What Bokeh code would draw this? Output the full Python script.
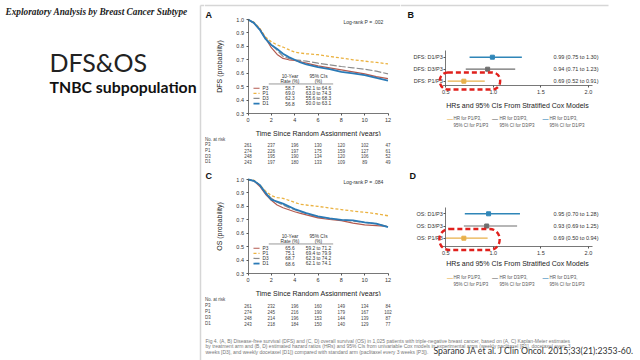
from bokeh.plotting import figure
from bokeh.models import Range1d, FactorRange, Label, FixedTicker, NumeralTickFormatter, LinearAxis
from bokeh.layouts import row, column
from bokeh.embed import file_html
from bokeh.resources import INLINE
from bokeh.core.properties import value

# ---------------- data ----------------
YEARS = [0, 0.5, 1, 1.5, 2, 2.5, 3, 3.5, 4, 4.5, 5, 6, 7, 8, 9, 10, 11, 12]

DFS_P3 = [1.0, 0.975, 0.93, 0.86, 0.79, 0.74, 0.71, 0.70, 0.695, 0.685, 0.675, 0.655, 0.64, 0.625, 0.61, 0.595, 0.575, 0.56]
DFS_P1 = [1.0, 0.98, 0.935, 0.87, 0.835, 0.81, 0.795, 0.775, 0.757, 0.75, 0.745, 0.738, 0.725, 0.713, 0.70, 0.69, 0.68, 0.67]
DFS_D3 = [1.0, 0.975, 0.925, 0.86, 0.815, 0.77, 0.725, 0.71, 0.70, 0.695, 0.69, 0.675, 0.662, 0.65, 0.64, 0.63, 0.615, 0.595]
DFS_D1 = [1.0, 0.975, 0.925, 0.855, 0.81, 0.78, 0.745, 0.72, 0.70, 0.68, 0.665, 0.645, 0.63, 0.61, 0.598, 0.585, 0.565, 0.545]

OS_P3 = [1.0, 0.99, 0.95, 0.89, 0.845, 0.81, 0.79, 0.775, 0.76, 0.748, 0.736, 0.714, 0.702, 0.694, 0.675, 0.662, 0.657, 0.65]
OS_P1 = [1.0, 0.995, 0.96, 0.915, 0.88, 0.865, 0.86, 0.845, 0.83, 0.815, 0.81, 0.80, 0.787, 0.776, 0.765, 0.756, 0.745, 0.73]
OS_D3 = [1.0, 0.99, 0.96, 0.905, 0.86, 0.83, 0.81, 0.79, 0.775, 0.76, 0.745, 0.72, 0.708, 0.70, 0.69, 0.68, 0.67, 0.65]
OS_D1 = [1.0, 0.99, 0.96, 0.90, 0.85, 0.835, 0.82, 0.80, 0.78, 0.765, 0.75, 0.726, 0.71, 0.70, 0.695, 0.68, 0.672, 0.645]

ARMS = ["P3", "P1", "D3", "D1"]
DFS_RATE = ["58.7", "69.0", "62.3", "56.8"]
DFS_CI = ["52.1 to 64.6", "63.0 to 74.3", "55.6 to 68.3", "50.0 to 63.1"]
OS_RATE = ["65.6", "75.1", "68.7", "68.6"]
OS_CI = ["59.2 to 71.2", "69.4 to 79.9", "62.3 to 74.2", "62.1 to 74.1"]
DFS_LOGRANK = "Log-rank P = .002"
OS_LOGRANK = "Log-rank P = .084"

RISK_YEARS = [0, 2, 4, 6, 8, 10, 12]
DFS_RISK_P3 = [261, 237, 196, 130, 120, 102, 47]
DFS_RISK_P1 = [274, 226, 197, 175, 159, 127, 61]
DFS_RISK_D3 = [248, 195, 190, 134, 120, 106, 52]
DFS_RISK_D1 = [243, 197, 180, 133, 109, 89, 49]
OS_RISK_P3 = [261, 232, 196, 160, 149, 134, 84]
OS_RISK_P1 = [274, 245, 216, 190, 179, 167, 102]
OS_RISK_D3 = [248, 214, 196, 153, 144, 139, 87]
OS_RISK_D1 = [243, 218, 184, 150, 140, 129, 77]

COMPARISONS = ["P1/P3", "D3/P3", "D1/P3"]
DFS_HR = [0.69, 0.94, 0.99]
DFS_LO = [0.52, 0.71, 0.75]
DFS_HI = [0.91, 1.23, 1.30]
OS_HR = [0.69, 0.93, 0.95]
OS_LO = [0.50, 0.69, 0.70]
OS_HI = [0.94, 1.25, 1.28]

KM_XTICKS = [0, 2, 4, 6, 8, 10, 12]
KM_YTICKS = [0.3, 0.4, 0.5, 0.6, 0.7, 0.8, 0.9, 1.0]
HR_TICKS = [0.5, 1.0, 1.5, 2.0]

CAPTION = [
    "Fig 4.  (A, B) Disease-free survival (DFS) and (C, D) overall survival (OS) in 1,025 patients with triple-negative breast cancer, based on (A, C) Kaplan-Meier estimates",
    "by treatment arm and (B, D) estimated hazard ratios (HRs) and 95% CIs from univariable Cox models in experimental arms (weekly paclitaxel [P1], docetaxel every 3",
    "weeks [D3], and weekly docetaxel [D1]) compared with standard arm (paclitaxel every 3 weeks [P3]).",
]
CITATION = "Sparano JA et al. J Clin Oncol. 2015;33(21):2353-60."

# ---------------- styles ----------------
ARM_COLOR = {"P3": "#b35a4f", "P1": "#ebb240", "D3": "#8c8c8c", "D1": "#2a7ab6"}
ARM_DASH = {"P3": "solid", "P1": "3 2", "D3": "7 2", "D1": "solid"}
ARM_WIDTH = {"P3": 1.2, "P1": 1.3, "D3": 1.2, "D1": 1.8}
CMP_COLOR = {"P1/P3": "#e8b04a", "D3/P3": "#6e6e6e", "D1/P3": "#2f86b8"}
SANS = "Liberation Sans"
TXT = "#333333"
FRAME_GREY = "#d6d6d6"


def page_fig(px0, py0, w, h, fx, fy, yr=None):
    """Figure whose frame is the whole canvas; fx/fy map page pixels to data."""
    p = figure(width=w, height=h, x_range=Range1d(fx(px0), fx(px0 + w)),
               y_range=yr if yr is not None else Range1d(fy(py0 + h), fy(py0)),
               x_axis_location=None, y_axis_location=None, min_border=0,
               output_backend="svg", toolbar_location=None)
    p.outline_line_color = None
    p.background_fill_color = "white"
    p.border_fill_color = "white"
    p.grid.visible = False
    return p


def style_axis(ax, size="5.5px"):
    ax.axis_line_color = "#555555"
    ax.axis_line_width = 0.8
    ax.major_tick_line_color = "#555555"
    ax.major_tick_in = 0
    ax.major_tick_out = 2
    ax.minor_tick_line_color = None
    ax.major_label_text_font = SANS
    ax.major_label_text_font_size = size
    ax.major_label_text_color = TXT
    ax.major_label_standoff = 2
    ax.axis_label_text_font = SANS
    ax.axis_label_text_font_size = "7px"
    ax.axis_label_text_font_style = "normal"
    ax.axis_label_text_color = "#222222"
    return ax


def ident(v):
    return v


# ---------------- left text column ----------------
left = page_fig(0, 0, 204, 360, ident, ident, yr=Range1d(360, 0))
left.x_range = Range1d(0, 204)
left.segment(x0=[200], y0=[5], x1=[200], y1=[360], line_color=FRAME_GREY, line_width=1.5)
left.segment(x0=[200], y0=[5], x1=[204], y1=[5], line_color=FRAME_GREY, line_width=1.5)
left.add_layout(Label(x=5, y=11, text="Exploratory Analysis by Breast Cancer Subtype",
                      text_font="Liberation Serif", text_font_style="bold italic",
                      text_font_size="9.3px", text_color="#222222", text_baseline="middle"))
left.add_layout(Label(x=49, y=61.5, text="DFS&OS", text_font="Lato", text_font_size="25px",
                      text_color="#222222", text_baseline="alphabetic"))
left.add_layout(Label(x=49, y=86, text="TNBC subpopulation", text_font="Lato", text_font_style="bold",
                      text_font_size="15.8px", text_color="#111111", text_baseline="alphabetic"))


# ---------------- Kaplan-Meier panels ----------------
def km_panel(letter, ylabel, curves, rates, cis, logrank, py0, h, frame_top, letter_py):
    fx = lambda px: (px - 247.5) / 140 * 12
    fy = lambda py: 1.0 - (py - frame_top) / 94 * 0.7
    p = page_fig(204, py0, 196, h, fx, fy)
    xax = style_axis(LinearAxis(fixed_location=0.3, bounds=(0, 12), ticker=FixedTicker(ticks=KM_XTICKS),
                                axis_label="Time Since Random Assignment (years)"))
    yax = style_axis(LinearAxis(fixed_location=0, bounds=(0.3, 1.0), ticker=FixedTicker(ticks=KM_YTICKS),
                                formatter=NumeralTickFormatter(format="0.0"), axis_label=ylabel))
    xax.axis_label_standoff = 5
    yax.axis_label_standoff = 11
    p.add_layout(xax, "below")
    p.add_layout(yax, "left")
    if py0 == 0:
        p.segment(x0=[fx(204)], y0=[fy(5)], x1=[fx(400)], y1=[fy(5)], line_color=FRAME_GREY, line_width=1.5)
    for i in [1, 2, 0, 3]:
        arm = ARMS[i]
        p.line(YEARS, curves[i], line_color=ARM_COLOR[arm], line_width=ARM_WIDTH[arm],
               line_dash=ARM_DASH[arm])
    # inset table
    rows_y = [0.488, 0.45, 0.412, 0.374]
    p.text(x=[3.6, 3.6, 6.04, 6.04], y=[0.577, 0.54, 0.577, 0.54],
           text=["10-Year", "Rate (%)", "95% CIs", "(%)"], text_align="center",
           text_baseline="middle", text_font=value(SANS), text_font_size="4.8px", text_color=TXT)
    p.segment(x0=[1.78], y0=[0.52], x1=[7.3], y1=[0.52], line_color="#555555", line_width=0.6)
    for i, arm in enumerate(ARMS):
        p.segment(x0=[0.47], y0=[rows_y[i]], x1=[0.99], y1=[rows_y[i]], line_color=ARM_COLOR[arm],
                  line_width=ARM_WIDTH[arm], line_dash=ARM_DASH[arm])
    p.text(x=[1.24] * 4, y=rows_y, text=ARMS, text_align="left", text_baseline="middle",
           text_font=value(SANS), text_font_size="4.8px", text_color=TXT)
    p.text(x=[3.6] * 4, y=rows_y, text=rates, text_align="center", text_baseline="middle",
           text_font=value(SANS), text_font_size="4.8px", text_color=TXT)
    p.text(x=[6.04] * 4, y=rows_y, text=cis, text_align="center", text_baseline="middle",
           text_font=value(SANS), text_font_size="4.8px", text_color=TXT)
    p.text(x=[11.6], y=[0.985], text=[logrank], text_align="right", text_baseline="middle",
           text_font=value(SANS), text_font_size="5px", text_color=TXT)
    p.add_layout(Label(x=fx(205), y=fy(letter_py), text=letter, text_font=SANS,
                       text_font_style="bold", text_font_size="9px", text_color="#111111",
                       text_baseline="middle"))
    return p


def risk_panel(py0, height, risk):
    fx = lambda px: (px - 247.5) / 140 * 12
    p = page_fig(204, py0, 196, height, fx, ident,
                 yr=FactorRange(factors=["D1", "D3", "P1", "P3", "hdr"]))
    xs, ys, ts = [], [], []
    for arm, vals in zip(ARMS, risk):
        for yr, v in zip(RISK_YEARS, vals):
            xs.append(yr)
            ys.append(arm)
            ts.append(str(v))
    p.text(x=xs, y=ys, text=ts, text_align="center", text_baseline="middle",
           text_font=value(SANS), text_font_size="4.5px", text_color="#444444")
    p.text(x=[fx(204.5)] * 5, y=["hdr"] + ARMS, text=["No. at risk"] + ARMS, text_align="left",
           text_baseline="middle", text_font=value(SANS), text_font_size="4.5px", text_color="#444444")
    return p


pA = km_panel("A", "DFS (probability)", [DFS_P3, DFS_P1, DFS_D3, DFS_D1], DFS_RATE, DFS_CI,
              DFS_LOGRANK, 0, 136, 19, 14)
rA = risk_panel(136, 28, [DFS_RISK_P3, DFS_RISK_P1, DFS_RISK_D3, DFS_RISK_D1])
pC = km_panel("C", "OS (probability)", [OS_P3, OS_P1, OS_D3, OS_D1], OS_RATE, OS_CI,
              OS_LOGRANK, 164, 132, 179, 175)
rC = risk_panel(296, 30, [OS_RISK_P3, OS_RISK_P1, OS_RISK_D3, OS_RISK_D1])

# ---------------- forest panels ----------------
def fx_hr(px):
    return 0.476 + (px - 443) / 95.1


def forest_panel(letter, prefix, hr, lo, hi, py0, height, row_py, spacing, axis_py, axis_top_py,
                 title_standoff, legend_py, ell, letter_pos):
    fy = lambda py: 1 + (row_py - py) / spacing
    p = page_fig(400, py0, 240, height, fx_hr, fy)
    rows = [1, 2, 3]
    xax = style_axis(LinearAxis(fixed_location=fy(axis_py), bounds=(0.47, 2.04),
                                ticker=FixedTicker(ticks=HR_TICKS),
                                formatter=NumeralTickFormatter(format="0.0"),
                                axis_label="HRs and 95% CIs From Stratified Cox Models"))
    xax.axis_label_standoff = title_standoff
    yax = style_axis(LinearAxis(fixed_location=0.5, bounds=(fy(axis_py), fy(axis_top_py)),
                                ticker=FixedTicker(ticks=rows)))
    yax.major_label_overrides = {r: f"{prefix}: {c}" for r, c in zip(rows, COMPARISONS)}
    yax.major_label_standoff = 1
    p.add_layout(xax, "below")
    p.add_layout(yax, "left")
    if py0 == 0:
        p.segment(x0=[fx_hr(400)], y0=[fy(5)], x1=[fx_hr(608)], y1=[fy(5)], line_color=FRAME_GREY, line_width=1.5)
    cols = [CMP_COLOR[c] for c in COMPARISONS]
    p.segment(x0=lo, y0=rows, x1=hi, y1=rows, line_color=cols, line_width=[1.2, 1.2, 1.6])
    p.scatter(x=hr, y=rows, marker="square", size=4, fill_color=cols, line_color=cols)
    p.text(x=[fx_hr(598)] * 3, y=rows,
           text=[f"{h:.2f} ({l:.2f} to {u:.2f})" for h, l, u in zip(hr, lo, hi)],
           text_align="right", text_baseline="middle", text_font=value(SANS),
           text_font_size="5.5px", text_color=TXT)
    # legend
    dash_px = [449.5, 494.5, 545]
    text_px = [453, 499, 549]
    for c, dx, tx in zip(COMPARISONS, dash_px, text_px):
        p.add_layout(Label(x=fx_hr(dx), y=fy(legend_py[0]), text="\u2014", text_font=SANS,
                           text_font_size="6px", text_color=CMP_COLOR[c], text_align="center",
                           text_baseline="middle", text_font_style="bold"))
        p.add_layout(Label(x=fx_hr(tx), y=fy(legend_py[0]), text=f"HR for {c},", text_font=SANS,
                           text_font_size="4.5px", text_color="#555555", text_baseline="middle"))
        p.add_layout(Label(x=fx_hr(tx), y=fy(legend_py[1]), text=f"95% CI for {c}", text_font=SANS,
                           text_font_size="4.5px", text_color="#555555", text_baseline="middle"))
    # red dashed highlight
    cx, cy, w, h = ell
    p.add_layout(Label(x=fx_hr(cx), y=fy(cy), text=" ", text_font_size="1px",
                       text_align="center", text_baseline="middle",
                       border_line_color="#e0201c", border_line_width=2.4,
                       border_line_dash="5 3", border_radius=int(h // 2),
                       padding=dict(left=int(w // 2), right=int(w // 2), top=int(h // 2), bottom=int(h // 2))))
    p.add_layout(Label(x=fx_hr(letter_pos[0]), y=fy(letter_pos[1]), text=letter, text_font=SANS,
                       text_font_style="bold", text_font_size="9px", text_color="#111111",
                       text_baseline="middle"))
    return p


pB = forest_panel("B", "DFS", DFS_HR, DFS_LO, DFS_HI, 0, 164, 80.7, 12, 85, 50, 5,
                  (118, 125), (469.5, 80.5, 61, 17), (407, 14))
pD = forest_panel("D", "OS", OS_HR, OS_LO, OS_HI, 164, 162, 237.7, 12.2, 246, 207, 2,
                  (277, 284), (469, 239, 60, 21), (409, 175.5))

# ---------------- caption ----------------
bottom = page_fig(204, 326, 436, 34, ident, ident, yr=Range1d(360, 326))
bottom.x_range = Range1d(204, 640)
bottom.text(x=[205, 205, 205], y=[340, 345.5, 351], text=CAPTION, text_align="left",
            text_baseline="middle", text_font=value(SANS), text_font_size="5px", text_color="#777777")
bottom.add_layout(Label(x=433, y=349.5, text=CITATION, text_font="Lato", text_font_size="8.7px",
                        text_color="#333333", text_baseline="middle"))

layout = row(left, column(row(column(pA, rA, pC, rC), column(pB, pD)), bottom))

open("out.html", "w").write(file_html(layout, INLINE))
